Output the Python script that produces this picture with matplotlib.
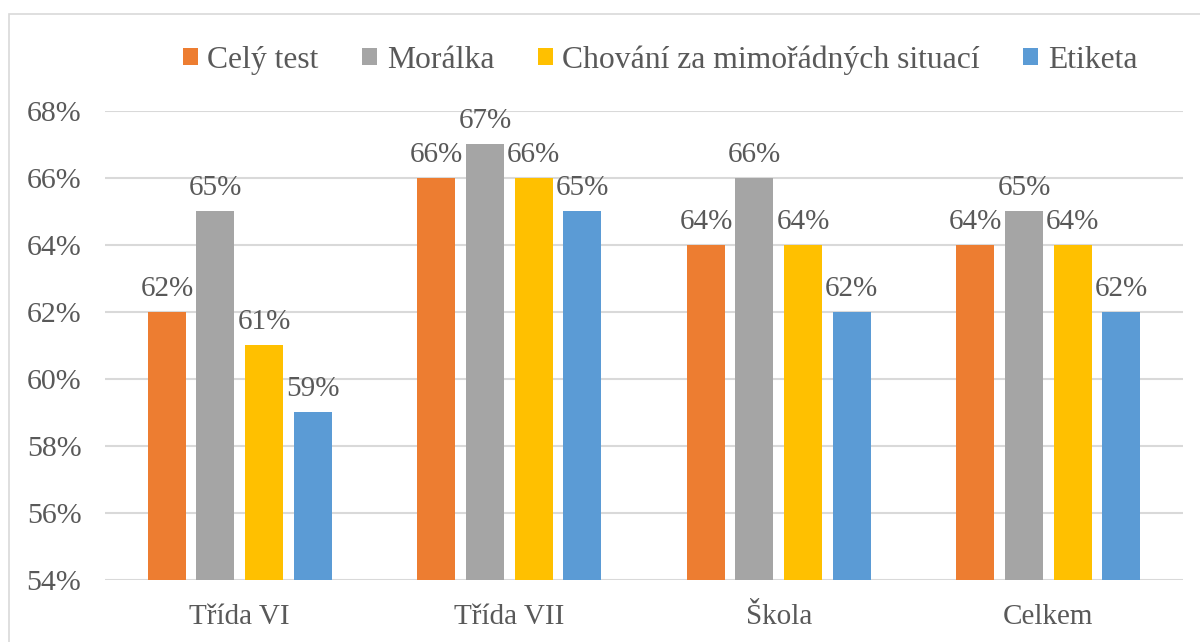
import matplotlib
matplotlib.use("Agg")
import matplotlib.pyplot as plt
import numpy as np
from matplotlib.patches import Rectangle

categories = ["Třída VI", "Třída VII", "Škola", "Celkem"]
series_names = ["Celý test", "Morálka", "Chování za mimořádných situací", "Etiketa"]
cely_test = [62, 66, 64, 64]
moralka = [65, 67, 66, 65]
chovani = [61, 66, 64, 64]
etiketa = [59, 65, 62, 62]
values = [cely_test, moralka, chovani, etiketa]
colors = ["#ED7D31", "#A5A5A5", "#FFC000", "#5B9BD5"]
yticks = [54, 56, 58, 60, 62, 64, 66, 68]

plt.rcParams['font.family'] = ['Liberation Serif', 'DejaVu Serif']
text_color = "#595959"

fig = plt.figure(figsize=(12, 6.42), dpi=100)
fig.patches.append(Rectangle((9/1200, -0.1), 1.2, 1 - 14/642 + 0.1, transform=fig.transFigure,
                             fill=False, edgecolor="#D9D9D9", linewidth=1.2))
ax = fig.add_axes([105/1200, 1 - 580/642, (1183 - 105)/1200, (580 - 111)/642])

x = np.arange(len(categories))
bw = 0.141
step = 0.18
for i, (vals, name, c) in enumerate(zip(values, series_names, colors)):
    pos = x + (i - 1.5) * step
    ax.bar(pos, np.array(vals) - 54, bottom=54, width=bw, color=c, label=name, zorder=3)
    for p, v in zip(pos, vals):
        ax.text(p, v + 0.3, f"{v}%", ha="center", va="bottom", fontsize=21, color=text_color)

ax.set_ylim(54, 68)
ax.set_xlim(-0.5, 3.5)
ax.set_yticks(yticks)
ax.set_yticklabels([f"{t}%" for t in yticks], fontsize=21.5, color=text_color)
ax.set_xticks(x)
ax.set_xticklabels(categories, fontsize=21, color=text_color)
ax.tick_params(axis='both', length=0)
ax.tick_params(axis='y', pad=17)
ax.tick_params(axis='x', pad=17)
ax.grid(axis='y', color="#D9D9D9", linewidth=1.5, zorder=0)
for s in ax.spines.values():
    s.set_visible(False)

leg = fig.legend(loc="center", bbox_to_anchor=(0.55, 1 - 60/642), ncol=4, frameon=False,
                 fontsize=22.8, handlelength=0.48, handleheight=0.48, handletextpad=0.3,
                 columnspacing=1.37, labelcolor=text_color)

fig.savefig("out.png", dpi=100)
